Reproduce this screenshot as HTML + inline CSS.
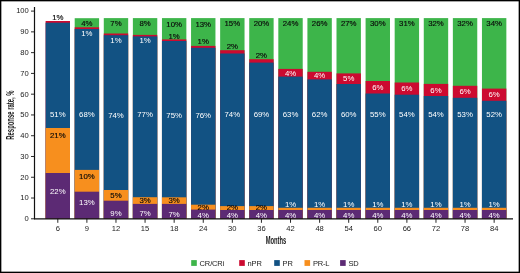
<!DOCTYPE html><html><head><meta charset="utf-8"><style>
html,body{margin:0;padding:0;background:#fff;}
body{width:520px;height:273px;overflow:hidden;}
svg{display:block;will-change:transform;}
text{font-family:"Liberation Sans", sans-serif;}
</style></head><body>
<svg width="520" height="273" viewBox="0 0 520 273">
<rect x="0" y="0" width="520" height="273" fill="#fff"/>
<rect x="45.60" y="21.00" width="24.4" height="197.80" fill="#cc0a30"/>
<rect x="45.60" y="22.70" width="24.4" height="196.10" fill="#125283"/>
<rect x="45.60" y="128.00" width="24.4" height="90.80" fill="#f78f1e"/>
<rect x="45.60" y="173.00" width="24.4" height="45.80" fill="#5c2a74"/>
<rect x="74.69" y="18.20" width="24.4" height="200.60" fill="#3db54a"/>
<rect x="74.69" y="27.30" width="24.4" height="191.50" fill="#cc0a30"/>
<rect x="74.69" y="29.00" width="24.4" height="189.80" fill="#125283"/>
<rect x="74.69" y="169.90" width="24.4" height="48.90" fill="#f78f1e"/>
<rect x="74.69" y="191.70" width="24.4" height="27.10" fill="#5c2a74"/>
<rect x="103.78" y="18.10" width="24.4" height="200.70" fill="#3db54a"/>
<rect x="103.78" y="33.50" width="24.4" height="185.30" fill="#cc0a30"/>
<rect x="103.78" y="35.20" width="24.4" height="183.60" fill="#125283"/>
<rect x="103.78" y="190.00" width="24.4" height="28.80" fill="#f78f1e"/>
<rect x="103.78" y="200.70" width="24.4" height="18.10" fill="#5c2a74"/>
<rect x="132.87" y="18.10" width="24.4" height="200.70" fill="#3db54a"/>
<rect x="132.87" y="34.90" width="24.4" height="183.90" fill="#cc0a30"/>
<rect x="132.87" y="36.40" width="24.4" height="182.40" fill="#125283"/>
<rect x="132.87" y="197.20" width="24.4" height="21.60" fill="#f78f1e"/>
<rect x="132.87" y="203.90" width="24.4" height="14.90" fill="#5c2a74"/>
<rect x="161.96" y="18.10" width="24.4" height="200.70" fill="#3db54a"/>
<rect x="161.96" y="39.40" width="24.4" height="179.40" fill="#cc0a30"/>
<rect x="161.96" y="41.00" width="24.4" height="177.80" fill="#125283"/>
<rect x="161.96" y="197.30" width="24.4" height="21.50" fill="#f78f1e"/>
<rect x="161.96" y="203.90" width="24.4" height="14.90" fill="#5c2a74"/>
<rect x="191.05" y="18.10" width="24.4" height="200.70" fill="#3db54a"/>
<rect x="191.05" y="45.90" width="24.4" height="172.90" fill="#cc0a30"/>
<rect x="191.05" y="47.80" width="24.4" height="171.00" fill="#125283"/>
<rect x="191.05" y="204.70" width="24.4" height="14.10" fill="#f78f1e"/>
<rect x="191.05" y="209.60" width="24.4" height="9.20" fill="#5c2a74"/>
<rect x="220.14" y="18.10" width="24.4" height="200.70" fill="#3db54a"/>
<rect x="220.14" y="50.20" width="24.4" height="168.60" fill="#cc0a30"/>
<rect x="220.14" y="53.50" width="24.4" height="165.30" fill="#125283"/>
<rect x="220.14" y="206.10" width="24.4" height="12.70" fill="#f78f1e"/>
<rect x="220.14" y="210.00" width="24.4" height="8.80" fill="#5c2a74"/>
<rect x="249.23" y="18.10" width="24.4" height="200.70" fill="#3db54a"/>
<rect x="249.23" y="59.20" width="24.4" height="159.60" fill="#cc0a30"/>
<rect x="249.23" y="62.60" width="24.4" height="156.20" fill="#125283"/>
<rect x="249.23" y="206.10" width="24.4" height="12.70" fill="#f78f1e"/>
<rect x="249.23" y="210.00" width="24.4" height="8.80" fill="#5c2a74"/>
<rect x="278.32" y="18.10" width="24.4" height="200.70" fill="#3db54a"/>
<rect x="278.32" y="68.90" width="24.4" height="149.90" fill="#cc0a30"/>
<rect x="278.32" y="76.60" width="24.4" height="142.20" fill="#125283"/>
<rect x="278.32" y="207.80" width="24.4" height="11.00" fill="#f78f1e"/>
<rect x="278.32" y="210.00" width="24.4" height="8.80" fill="#5c2a74"/>
<rect x="307.41" y="18.10" width="24.4" height="200.70" fill="#3db54a"/>
<rect x="307.41" y="71.80" width="24.4" height="147.00" fill="#cc0a30"/>
<rect x="307.41" y="79.40" width="24.4" height="139.40" fill="#125283"/>
<rect x="307.41" y="207.80" width="24.4" height="11.00" fill="#f78f1e"/>
<rect x="307.41" y="210.00" width="24.4" height="8.80" fill="#5c2a74"/>
<rect x="336.50" y="18.10" width="24.4" height="200.70" fill="#3db54a"/>
<rect x="336.50" y="73.40" width="24.4" height="145.40" fill="#cc0a30"/>
<rect x="336.50" y="84.00" width="24.4" height="134.80" fill="#125283"/>
<rect x="336.50" y="207.80" width="24.4" height="11.00" fill="#f78f1e"/>
<rect x="336.50" y="210.00" width="24.4" height="8.80" fill="#5c2a74"/>
<rect x="365.59" y="18.10" width="24.4" height="200.70" fill="#3db54a"/>
<rect x="365.59" y="81.00" width="24.4" height="137.80" fill="#cc0a30"/>
<rect x="365.59" y="93.50" width="24.4" height="125.30" fill="#125283"/>
<rect x="365.59" y="207.80" width="24.4" height="11.00" fill="#f78f1e"/>
<rect x="365.59" y="210.00" width="24.4" height="8.80" fill="#5c2a74"/>
<rect x="394.68" y="18.10" width="24.4" height="200.70" fill="#3db54a"/>
<rect x="394.68" y="82.50" width="24.4" height="136.30" fill="#cc0a30"/>
<rect x="394.68" y="94.70" width="24.4" height="124.10" fill="#125283"/>
<rect x="394.68" y="207.80" width="24.4" height="11.00" fill="#f78f1e"/>
<rect x="394.68" y="210.00" width="24.4" height="8.80" fill="#5c2a74"/>
<rect x="423.77" y="18.10" width="24.4" height="200.70" fill="#3db54a"/>
<rect x="423.77" y="83.90" width="24.4" height="134.90" fill="#cc0a30"/>
<rect x="423.77" y="96.00" width="24.4" height="122.80" fill="#125283"/>
<rect x="423.77" y="207.80" width="24.4" height="11.00" fill="#f78f1e"/>
<rect x="423.77" y="210.00" width="24.4" height="8.80" fill="#5c2a74"/>
<rect x="452.86" y="18.10" width="24.4" height="200.70" fill="#3db54a"/>
<rect x="452.86" y="85.80" width="24.4" height="133.00" fill="#cc0a30"/>
<rect x="452.86" y="97.80" width="24.4" height="121.00" fill="#125283"/>
<rect x="452.86" y="207.80" width="24.4" height="11.00" fill="#f78f1e"/>
<rect x="452.86" y="210.00" width="24.4" height="8.80" fill="#5c2a74"/>
<rect x="481.95" y="18.10" width="24.4" height="200.70" fill="#3db54a"/>
<rect x="481.95" y="88.60" width="24.4" height="130.20" fill="#cc0a30"/>
<rect x="481.95" y="100.80" width="24.4" height="118.00" fill="#125283"/>
<rect x="481.95" y="207.80" width="24.4" height="11.00" fill="#f78f1e"/>
<rect x="481.95" y="210.00" width="24.4" height="8.80" fill="#5c2a74"/>
<g stroke="#111" fill="none">
<line x1="34.5" y1="7" x2="34.5" y2="219.30" stroke-width="1.2"/>
<line x1="34" y1="218.80" x2="513" y2="218.80" stroke-width="1.2"/>
<line x1="31" y1="218.80" x2="34" y2="218.80" stroke-width="0.9"/>
<line x1="31" y1="198.03" x2="34" y2="198.03" stroke-width="0.9"/>
<line x1="31" y1="177.26" x2="34" y2="177.26" stroke-width="0.9"/>
<line x1="31" y1="156.49" x2="34" y2="156.49" stroke-width="0.9"/>
<line x1="31" y1="135.72" x2="34" y2="135.72" stroke-width="0.9"/>
<line x1="31" y1="114.95" x2="34" y2="114.95" stroke-width="0.9"/>
<line x1="31" y1="94.18" x2="34" y2="94.18" stroke-width="0.9"/>
<line x1="31" y1="73.41" x2="34" y2="73.41" stroke-width="0.9"/>
<line x1="31" y1="52.64" x2="34" y2="52.64" stroke-width="0.9"/>
<line x1="31" y1="31.87" x2="34" y2="31.87" stroke-width="0.9"/>
<line x1="31" y1="11.10" x2="34" y2="11.10" stroke-width="0.9"/>
<line x1="57.80" y1="218.80" x2="57.80" y2="222.80" stroke-width="0.9"/>
<line x1="86.89" y1="218.80" x2="86.89" y2="222.80" stroke-width="0.9"/>
<line x1="115.98" y1="218.80" x2="115.98" y2="222.80" stroke-width="0.9"/>
<line x1="145.07" y1="218.80" x2="145.07" y2="222.80" stroke-width="0.9"/>
<line x1="174.16" y1="218.80" x2="174.16" y2="222.80" stroke-width="0.9"/>
<line x1="203.25" y1="218.80" x2="203.25" y2="222.80" stroke-width="0.9"/>
<line x1="232.34" y1="218.80" x2="232.34" y2="222.80" stroke-width="0.9"/>
<line x1="261.43" y1="218.80" x2="261.43" y2="222.80" stroke-width="0.9"/>
<line x1="290.52" y1="218.80" x2="290.52" y2="222.80" stroke-width="0.9"/>
<line x1="319.61" y1="218.80" x2="319.61" y2="222.80" stroke-width="0.9"/>
<line x1="348.70" y1="218.80" x2="348.70" y2="222.80" stroke-width="0.9"/>
<line x1="377.79" y1="218.80" x2="377.79" y2="222.80" stroke-width="0.9"/>
<line x1="406.88" y1="218.80" x2="406.88" y2="222.80" stroke-width="0.9"/>
<line x1="435.97" y1="218.80" x2="435.97" y2="222.80" stroke-width="0.9"/>
<line x1="465.06" y1="218.80" x2="465.06" y2="222.80" stroke-width="0.9"/>
<line x1="494.15" y1="218.80" x2="494.15" y2="222.80" stroke-width="0.9"/>
</g>
<g font-size="7.6" fill="#1a1a1a" text-anchor="end">
<text x="28.8" y="221.15">0</text>
<text x="28.8" y="200.38">10</text>
<text x="28.8" y="179.61">20</text>
<text x="28.8" y="158.84">30</text>
<text x="28.8" y="138.07">40</text>
<text x="28.8" y="117.30">50</text>
<text x="28.8" y="96.53">60</text>
<text x="28.8" y="75.76">70</text>
<text x="28.8" y="54.99">80</text>
<text x="28.8" y="34.22">90</text>
<text x="28.8" y="13.45">100</text>
</g>
<g font-size="7.6" fill="#1a1a1a" text-anchor="middle">
<text x="57.80" y="231.2">6</text>
<text x="86.89" y="231.2">9</text>
<text x="115.98" y="231.2">12</text>
<text x="145.07" y="231.2">15</text>
<text x="174.16" y="231.2">18</text>
<text x="203.25" y="231.2">24</text>
<text x="232.34" y="231.2">30</text>
<text x="261.43" y="231.2">36</text>
<text x="290.52" y="231.2">42</text>
<text x="319.61" y="231.2">48</text>
<text x="348.70" y="231.2">54</text>
<text x="377.79" y="231.2">60</text>
<text x="406.88" y="231.2">66</text>
<text x="435.97" y="231.2">72</text>
<text x="465.06" y="231.2">78</text>
<text x="494.15" y="231.2">84</text>
</g>
<text transform="translate(276,243.9) scale(0.56,1)" font-size="10.4" font-weight="bold" text-anchor="middle" fill="#1a1a1a">Months</text>
<text transform="translate(13.5,115.1) rotate(-90) scale(0.59,1)" font-size="10" font-weight="bold" text-anchor="middle" fill="#1a1a1a">Response rate, %</text>
<rect x="191.2" y="260.1" width="5.6" height="5.8" fill="#3db54a"/>
<text x="199.6" y="265.6" font-size="7.5" letter-spacing="-0.15" fill="#1a1a1a">CR/CRi</text>
<rect x="239.2" y="260.1" width="5.6" height="5.8" fill="#cc0a30"/>
<text x="247.6" y="265.6" font-size="7.5" letter-spacing="-0.15" fill="#1a1a1a">nPR</text>
<rect x="274.2" y="260.1" width="5.6" height="5.8" fill="#125283"/>
<text x="282.6" y="265.6" font-size="7.5" letter-spacing="-0.15" fill="#1a1a1a">PR</text>
<rect x="304.5" y="260.1" width="5.6" height="5.8" fill="#f78f1e"/>
<text x="312.9" y="265.6" font-size="7.5" letter-spacing="-0.15" fill="#1a1a1a">PR-L</text>
<rect x="340.1" y="260.1" width="5.6" height="5.8" fill="#5c2a74"/>
<text x="348.5" y="265.6" font-size="7.5" letter-spacing="-0.15" fill="#1a1a1a">SD</text>
<g font-size="7.8" text-anchor="middle">
<text x="57.80" y="194.40" fill="#fff">22%</text>
<text x="57.80" y="137.90" fill="#0a0a0a" stroke="#0a0a0a" stroke-width="0.15">21%</text>
<text x="57.80" y="116.90" fill="#fff">51%</text>
<text x="57.80" y="20.20" fill="#0a0a0a" stroke="#0a0a0a" stroke-width="0.15">1%</text>
<text x="86.89" y="205.20" fill="#fff">13%</text>
<text x="86.89" y="178.70" fill="#0a0a0a" stroke="#0a0a0a" stroke-width="0.15">10%</text>
<text x="86.89" y="116.90" fill="#fff">68%</text>
<text x="86.89" y="35.60" fill="#fff">1%</text>
<text x="86.89" y="25.90" fill="#0a0a0a" stroke="#0a0a0a" stroke-width="0.15">4%</text>
<text x="115.98" y="216.10" fill="#fff">9%</text>
<text x="115.98" y="197.80" fill="#0a0a0a" stroke="#0a0a0a" stroke-width="0.15">5%</text>
<text x="115.98" y="118.10" fill="#fff">74%</text>
<text x="115.98" y="42.50" fill="#fff">1%</text>
<text x="115.98" y="25.90" fill="#0a0a0a" stroke="#0a0a0a" stroke-width="0.15">7%</text>
<text x="145.07" y="216.10" fill="#fff">7%</text>
<text x="145.07" y="202.90" fill="#0a0a0a" stroke="#0a0a0a" stroke-width="0.15">3%</text>
<text x="145.07" y="116.70" fill="#fff">77%</text>
<text x="145.07" y="43.10" fill="#fff">1%</text>
<text x="145.07" y="26.20" fill="#0a0a0a" stroke="#0a0a0a" stroke-width="0.15">8%</text>
<text x="174.16" y="216.50" fill="#fff">7%</text>
<text x="174.16" y="203.30" fill="#0a0a0a" stroke="#0a0a0a" stroke-width="0.15">3%</text>
<text x="174.16" y="117.90" fill="#fff">75%</text>
<text x="174.16" y="38.80" fill="#0a0a0a" stroke="#0a0a0a" stroke-width="0.15">1%</text>
<text x="174.16" y="26.90" fill="#0a0a0a" stroke="#0a0a0a" stroke-width="0.15">10%</text>
<text x="203.25" y="217.60" fill="#fff">4%</text>
<text x="203.25" y="209.50" fill="#0a0a0a" stroke="#0a0a0a" stroke-width="0.15">2%</text>
<text x="203.25" y="117.70" fill="#fff">76%</text>
<text x="203.25" y="44.40" fill="#0a0a0a" stroke="#0a0a0a" stroke-width="0.15">1%</text>
<text x="203.25" y="26.90" fill="#0a0a0a" stroke="#0a0a0a" stroke-width="0.15">13%</text>
<text x="232.34" y="217.60" fill="#fff">4%</text>
<text x="232.34" y="210.20" fill="#0a0a0a" stroke="#0a0a0a" stroke-width="0.15">2%</text>
<text x="232.34" y="116.90" fill="#fff">74%</text>
<text x="232.34" y="48.80" fill="#0a0a0a" stroke="#0a0a0a" stroke-width="0.15">2%</text>
<text x="232.34" y="25.90" fill="#0a0a0a" stroke="#0a0a0a" stroke-width="0.15">15%</text>
<text x="261.43" y="217.60" fill="#fff">4%</text>
<text x="261.43" y="210.20" fill="#0a0a0a" stroke="#0a0a0a" stroke-width="0.15">2%</text>
<text x="261.43" y="116.90" fill="#fff">69%</text>
<text x="261.43" y="57.60" fill="#0a0a0a" stroke="#0a0a0a" stroke-width="0.15">2%</text>
<text x="261.43" y="26.40" fill="#0a0a0a" stroke="#0a0a0a" stroke-width="0.15">20%</text>
<text x="290.52" y="217.60" fill="#fff">4%</text>
<text x="290.52" y="206.50" fill="#fff">1%</text>
<text x="290.52" y="116.90" fill="#fff">63%</text>
<text x="290.52" y="75.60" fill="#fff">4%</text>
<text x="290.52" y="26.40" fill="#0a0a0a" stroke="#0a0a0a" stroke-width="0.15">24%</text>
<text x="319.61" y="217.60" fill="#fff">4%</text>
<text x="319.61" y="206.50" fill="#fff">1%</text>
<text x="319.61" y="116.90" fill="#fff">62%</text>
<text x="319.61" y="78.40" fill="#fff">4%</text>
<text x="319.61" y="26.40" fill="#0a0a0a" stroke="#0a0a0a" stroke-width="0.15">26%</text>
<text x="348.70" y="217.60" fill="#fff">4%</text>
<text x="348.70" y="206.50" fill="#fff">1%</text>
<text x="348.70" y="116.90" fill="#fff">60%</text>
<text x="348.70" y="81.40" fill="#fff">5%</text>
<text x="348.70" y="26.40" fill="#0a0a0a" stroke="#0a0a0a" stroke-width="0.15">27%</text>
<text x="377.79" y="217.60" fill="#fff">4%</text>
<text x="377.79" y="206.50" fill="#fff">1%</text>
<text x="377.79" y="116.90" fill="#fff">55%</text>
<text x="377.79" y="89.90" fill="#fff">6%</text>
<text x="377.79" y="26.00" fill="#0a0a0a" stroke="#0a0a0a" stroke-width="0.15">30%</text>
<text x="406.88" y="217.60" fill="#fff">4%</text>
<text x="406.88" y="206.50" fill="#fff">1%</text>
<text x="406.88" y="116.90" fill="#fff">54%</text>
<text x="406.88" y="91.00" fill="#fff">6%</text>
<text x="406.88" y="26.00" fill="#0a0a0a" stroke="#0a0a0a" stroke-width="0.15">31%</text>
<text x="435.97" y="217.60" fill="#fff">4%</text>
<text x="435.97" y="206.50" fill="#fff">1%</text>
<text x="435.97" y="116.90" fill="#fff">54%</text>
<text x="435.97" y="92.50" fill="#fff">6%</text>
<text x="435.97" y="26.00" fill="#0a0a0a" stroke="#0a0a0a" stroke-width="0.15">32%</text>
<text x="465.06" y="217.60" fill="#fff">4%</text>
<text x="465.06" y="206.50" fill="#fff">1%</text>
<text x="465.06" y="116.90" fill="#fff">53%</text>
<text x="465.06" y="94.20" fill="#fff">6%</text>
<text x="465.06" y="26.00" fill="#0a0a0a" stroke="#0a0a0a" stroke-width="0.15">32%</text>
<text x="494.15" y="217.60" fill="#fff">4%</text>
<text x="494.15" y="206.50" fill="#fff">1%</text>
<text x="494.15" y="116.90" fill="#fff">52%</text>
<text x="494.15" y="97.10" fill="#fff">6%</text>
<text x="494.15" y="26.00" fill="#0a0a0a" stroke="#0a0a0a" stroke-width="0.15">34%</text>
</g>
<rect x="0" y="0" width="520" height="273" fill="none" stroke="#000" stroke-width="2.7"/>
</svg></body></html>
